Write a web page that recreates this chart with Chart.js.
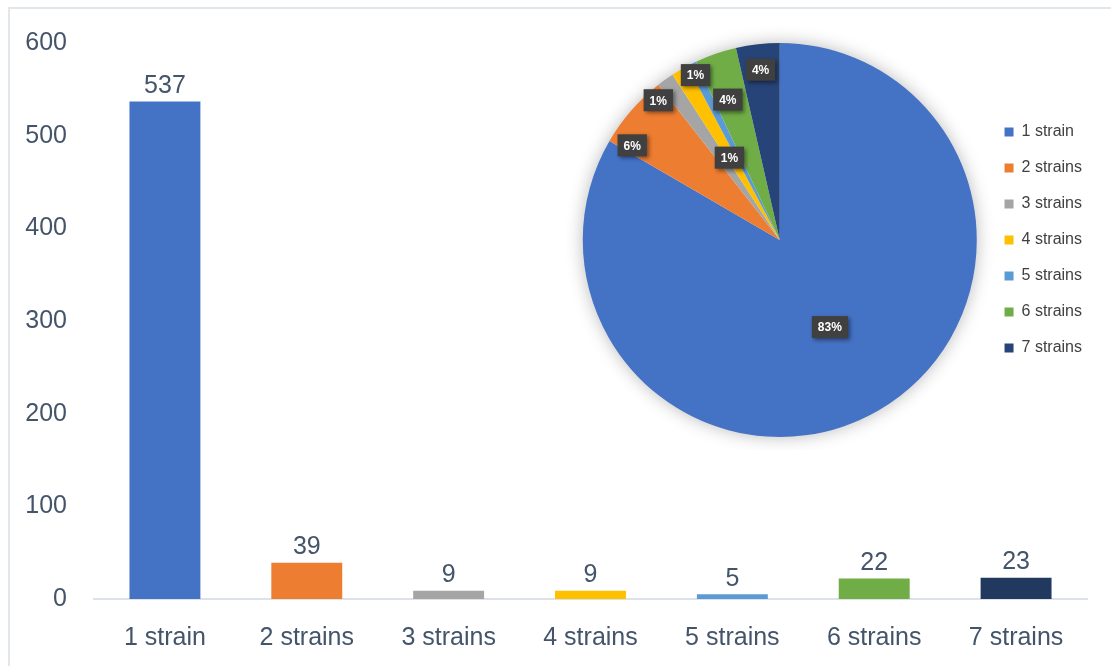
<!DOCTYPE html>
<html>
<head>
<meta charset="utf-8">
<title>Strains</title>
<script src="https://cdn.jsdelivr.net/npm/chart.js@4.4.1/dist/chart.umd.min.js"></script>
<style>
    html, body { margin: 0; padding: 0; background: #fff; overflow: hidden; }
    #frame {
        position: absolute; left: 8px; top: 7px; width: 1103px; height: 659px;
        border-left: 2px solid #e2e7ec; border-top: 2px solid #e2e7ec;
    }
    #barWrap { position: absolute; left: 0; top: 0; width: 1111px; height: 666px; }
    #pieWrap { position: absolute; left: 563px; top: 9px; width: 537px; height: 441px; background: #fff; }
</style>
</head>
<body>
<div id="frame"></div>
<div id="barWrap"><canvas id="barChart"></canvas></div>
<div id="pieWrap"><canvas id="pieChart"></canvas></div>
<script>
// Chart data
const categories = ['1 strain', '2 strains', '3 strains', '4 strains', '5 strains', '6 strains', '7 strains'];
const counts = [537, 39, 9, 9, 5, 22, 23];
const pieLabels = ['83%', '6%', '1%', '1%', '1%', '4%', '4%'];
const yTicks = [0, 100, 200, 300, 400, 500, 600];

// Colours
const barColors = ['#4472C4', '#ED7D31', '#A5A5A5', '#FFC000', '#5B9BD5', '#70AD47', '#22395F'];
const pieColors = ['#4472C4', '#ED7D31', '#A5A5A5', '#FFC000', '#5B9BD5', '#70AD47', '#264478'];
const textColor = '#44546A';
const fontFamily = '"Liberation Sans", Arial, sans-serif';

// Value labels above bars
const barValuePlugin = {
    id: 'barValues',
    afterDatasetsDraw(chart) {
        const ctx = chart.ctx;
        const meta = chart.getDatasetMeta(0);
        ctx.save();
        ctx.font = '25px ' + fontFamily;
        ctx.fillStyle = textColor;
        ctx.textAlign = 'center';
        ctx.textBaseline = 'bottom';
        meta.data.forEach((bar, i) => {
            ctx.fillText(counts[i], bar.x, bar.y - 3);
        });
        ctx.restore();
    }
};

// Soft shadow under the pie
const pieShadowPlugin = {
    id: 'pieShadow',
    beforeDatasetsDraw(chart) {
        const arc = chart.getDatasetMeta(0).data[0];
        if (!arc) return;
        const ctx = chart.ctx;
        ctx.save();
        ctx.shadowColor = 'rgba(0,0,0,0.3)';
        ctx.shadowBlur = 18;
        ctx.fillStyle = '#fff';
        ctx.beginPath();
        ctx.arc(arc.x, arc.y, arc.outerRadius - 1, 0, Math.PI * 2);
        ctx.fill();
        ctx.restore();
    }
};

// Dark percentage boxes on the pie (placed by angle shift + radius fraction)
const pieLabelPlugin = {
    id: 'pieBoxes',
    afterDatasetsDraw(chart, args, opts) {
        const ctx = chart.ctx;
        const meta = chart.getDatasetMeta(0);
        ctx.save();
        ctx.font = 'bold 12px ' + fontFamily;
        ctx.textAlign = 'center';
        ctx.textBaseline = 'middle';
        meta.data.forEach((arc, i) => {
            const mid = (arc.startAngle + arc.endAngle) / 2 + opts.shifts[i] * Math.PI / 180;
            const r = arc.outerRadius * opts.radii[i];
            const x = arc.x + Math.cos(mid) * r;
            const y = arc.y + Math.sin(mid) * r;
            const w = ctx.measureText(pieLabels[i]).width + 12;
            const h = 22;
            ctx.shadowColor = 'rgba(0,0,0,0.45)';
            ctx.shadowBlur = 4;
            ctx.shadowOffsetX = 2;
            ctx.shadowOffsetY = 2;
            ctx.fillStyle = '#404040';
            ctx.fillRect(x - w / 2, y - h / 2, w, h);
            ctx.shadowColor = 'transparent';
            ctx.fillStyle = '#ffffff';
            ctx.fillText(pieLabels[i], x, y + 1);
        });
        ctx.restore();
    }
};

function initBarChart() {
    const ctx = document.getElementById('barChart').getContext('2d');
    new Chart(ctx, {
        type: 'bar',
        data: {
            labels: categories,
            datasets: [{
                data: counts,
                backgroundColor: barColors,
                barPercentage: 0.5,
                categoryPercentage: 1.0
            }]
        },
        options: {
            responsive: true,
            maintainAspectRatio: false,
            animation: false,
            layout: { padding: { top: 43, right: 24, bottom: 15, left: 20 } },
            plugins: { legend: { display: false }, tooltip: { enabled: false } },
            scales: {
                x: {
                    grid: { display: false, drawTicks: false },
                    border: { display: true, color: '#dde2e8', width: 2 },
                    ticks: { color: textColor, font: { family: fontFamily, size: 25 }, padding: 24 },
                    afterFit: (axis) => { axis.height = 52; }
                },
                y: {
                    min: 0,
                    max: yTicks[yTicks.length - 1],
                    afterBuildTicks: (axis) => { axis.ticks = yTicks.map(v => ({ value: v })); },
                    grid: { display: false, drawTicks: false },
                    border: { display: false },
                    ticks: { color: textColor, font: { family: fontFamily, size: 25 }, padding: 27 },
                    afterFit: (axis) => { axis.width = 74; }
                }
            }
        },
        plugins: [barValuePlugin]
    });
}

function initPieChart() {
    const ctx = document.getElementById('pieChart').getContext('2d');
    new Chart(ctx, {
        type: 'pie',
        data: {
            labels: categories,
            datasets: [{
                data: counts,
                backgroundColor: pieColors,
                borderWidth: 0
            }]
        },
        options: {
            responsive: true,
            maintainAspectRatio: false,
            animation: false,
            layout: { padding: { top: 34, right: 8, bottom: 13, left: 12 } },
            plugins: {
                tooltip: { enabled: false },
                legend: {
                    position: 'right',
                    labels: {
                        boxWidth: 9,
                        boxHeight: 9,
                        padding: 20,
                        color: '#404040',
                        font: { family: fontFamily, size: 16 }
                    }
                },
                pieBoxes: {
                    radii: [0.51, 0.89, 0.94, 0.94, 0.49, 0.76, 0.87],
                    shifts: [0, -8.4, -5.5, 3.4, -4.9, -1.3, 0]
                }
            }
        },
        plugins: [pieShadowPlugin, pieLabelPlugin]
    });
}

document.addEventListener('DOMContentLoaded', () => {
    initBarChart();
    initPieChart();
});
</script>
</body>
</html>
